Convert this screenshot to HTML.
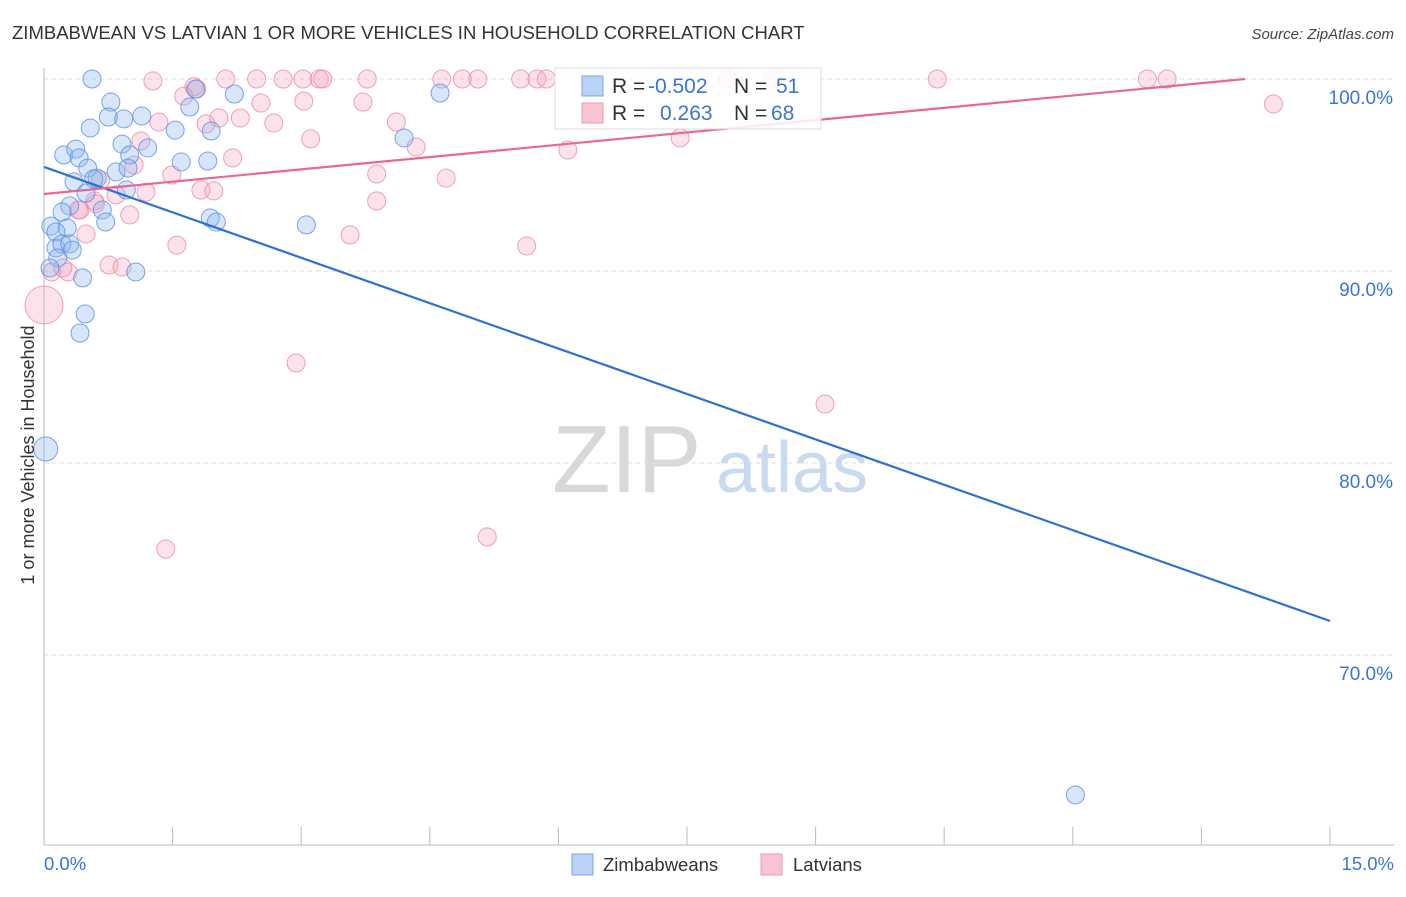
<!DOCTYPE html>
<html><head><meta charset="utf-8"><style>
body{margin:0;background:#fff;font-family:"Liberation Sans",sans-serif;}
svg text{font-family:"Liberation Sans",sans-serif;}
</style></head><body>
<svg id="chart" width="1406" height="892" xmlns="http://www.w3.org/2000/svg">
<text x="12" y="39" font-size="18.5" fill="#333">ZIMBABWEAN VS LATVIAN 1 OR MORE VEHICLES IN HOUSEHOLD CORRELATION CHART</text>
<text x="1394" y="39" font-size="15" fill="#444" font-style="italic" text-anchor="end">Source: ZipAtlas.com</text>
<g>
<text x="552" y="492" font-size="96" font-family="Liberation Serif" fill="#d8d8d8">ZIP</text>
<text x="716" y="492" font-size="72" fill="#c9d9f0">atlas</text>
</g>
<g id="grid"></g>
<g id="axes"></g>
<g id="pinkpts"></g>
<g id="bluepts"></g>
<g id="trends"></g>
<text transform="translate(34,455) rotate(-90)" font-size="18" fill="#333" text-anchor="middle">1 or more Vehicles in Household</text>
<g>
<rect x="555" y="68" width="266" height="61" fill="#fff" fill-opacity="0.85" stroke="#ddd"/>
<rect x="582" y="76" width="21" height="20" fill="#b9d2f5" stroke="#7aa6e6"/>
<rect x="582" y="103" width="21" height="20" fill="#f8c3d2" stroke="#ee9ab3"/>
<text x="612" y="93" font-size="21" fill="#333">R = </text><text x="648" y="93" font-size="21" fill="#3b73d9">-0.502</text>
<text x="734" y="93" font-size="21" fill="#333">N = </text><text x="776" y="93" font-size="21" fill="#3b73d9">51</text>
<text x="612" y="120" font-size="21" fill="#333">R = </text><text x="660" y="120" font-size="21" fill="#3b73d9">0.263</text>
<text x="734" y="120" font-size="21" fill="#333">N = </text><text x="771" y="120" font-size="21" fill="#3b73d9">68</text>
</g>
<g>
<rect x="572" y="854" width="21" height="21" fill="#b9d2f5" stroke="#7aa6e6"/>
<text x="603" y="871" font-size="18.5" fill="#333">Zimbabweans</text>
<rect x="761" y="854" width="21" height="21" fill="#f8c3d2" stroke="#ee9ab3"/>
<text x="793" y="871" font-size="18.5" fill="#333">Latvians</text>
</g>
</svg>
<script>
const yTicks=[100,90,80,70];
const yTickLabels=["100.0%","90.0%","80.0%","70.0%"];
const xTicks=[0,1,2,3,4,5,6,7,8,9,10];
const xEndLabels=["0.0%","15.0%"];
const blueX=[0.56,0.78,1.14,0.75,0.93,0.54,1.53,1.70,2.22,1.77,1.95,4.62,4.20,0.91,1.21,0.23,0.37,0.41,0.51,1.00,0.84,0.98,1.60,1.91,0.35,0.62,0.96,0.49,0.30,0.68,0.21,0.72,1.94,2.01,3.06,0.08,0.27,0.14,0.14,0.21,0.30,0.33,0.16,0.07,0.45,1.07,0.48,0.42,0.02,12.03,0.58];
const blueY=[100,98.80,98.07,98.02,97.92,97.45,97.34,98.54,99.22,99.48,97.29,99.27,96.93,96.61,96.41,96.04,96.35,95.89,95.36,96.04,95.16,95.36,95.68,95.73,94.64,94.84,94.22,94.06,93.39,93.18,93.07,92.55,92.76,92.55,92.40,92.34,92.24,92.03,91.20,91.41,91.41,91.09,90.68,90.16,89.64,89.95,87.76,86.77,80.73,62.71,94.8];
const blueR=[9,9,9,9,9,9,9,9,9,9,9,9,9,9,9,9,9,9,9,9,9,9,9,9,9,9,9,9,9,9,9,9,9,9,9,9,9,9,9,9,9,9,9,9,9,9,9,9,12,9,9];
const pinkX=[1.27,1.78,2.12,2.48,2.79,3.02,3.21,3.25,3.77,4.64,4.88,5.06,5.56,5.75,5.86,7.97,8.50,10.42,12.87,13.10,14.34,1.63,2.53,3.03,3.72,1.34,1.89,2.04,2.29,2.68,4.11,4.34,6.11,7.42,6.45,1.13,3.11,2.20,1.49,1.05,0.66,0.84,1.19,1.83,1.98,3.88,4.69,0.42,0.59,1.00,3.88,0.49,1.55,3.57,5.63,0.76,0.91,0.09,0.28,0.0,2.94,9.11,1.42,5.17,0.40,0.22,1.75,0.6];
const pinkY=[99.90,99.48,100,100,100,100,100,100,100,100,100,100,100,100,100,100,100,100,100,100,98.70,99.11,98.75,98.85,98.80,97.76,97.66,97.97,97.97,97.71,97.76,96.46,96.30,96.93,98.13,96.77,96.88,95.89,95.00,95.52,94.74,93.96,94.11,94.22,94.17,95.05,94.84,93.18,93.65,92.92,93.65,91.93,91.35,91.88,91.30,90.31,90.21,89.95,89.95,88.23,85.21,83.07,75.52,76.15,93.18,90.16,99.6,93.5];
const pinkR=[9,9,9,9,9,9,9,9,9,9,9,9,9,9,9,9,9,9,9,9,9,9,9,9,9,9,9,9,9,9,9,9,9,9,9,9,9,9,9,9,9,9,9,9,9,9,9,9,9,9,9,9,9,9,9,9,9,9,9,19,9,9,9,9,9,9,9,9];
const blueTrend=[95.42,71.77];
const pinkTrend=[94.01,100.0,14.01];

const NS="http://www.w3.org/2000/svg";
const X0=44,X1=1330,Y100=79,PXPER=19.2;
function sx(v){return X0+(X1-X0)*v/15;}
function sy(v){return Y100+(100-v)*PXPER;}
function mk(tag,attrs,parent){const e=document.createElementNS(NS,tag);for(const k in attrs)e.setAttribute(k,attrs[k]);parent.appendChild(e);return e;}
const grid=document.getElementById('grid'),axes=document.getElementById('axes');
yTicks.forEach((t,i)=>{
  const l=mk('line',{x1:44,x2:1394,y1:sy(t),y2:sy(t),stroke:'#ddd','stroke-dasharray':'4,4'},grid);
  
  
  const tx=mk('text',{x:1393,y:sy(t)+25,'font-size':19,fill:'#3b73d9','text-anchor':'end'},axes);
  tx.textContent=yTickLabels[i];
  
  
});
const xl=mk('line',{x1:44,x2:1394,y1:845,y2:845,stroke:'#bbb'},axes);


const yl=mk('line',{x1:44,x2:44,y1:68,y2:845,stroke:'#bbb'},axes);


xTicks.forEach(t=>{
  if(t===0)return;
  const x=X0+(X1-X0)*t/10;
  const k=mk('line',{x1:x,x2:x,y1:827,y2:845,stroke:'#bbb'},axes);
  
  
});
const l0=mk('text',{x:44,y:870,'font-size':18.5,fill:'#3b73d9'},axes);l0.textContent=xEndLabels[0];


const l1=mk('text',{x:1394,y:870,'font-size':18.5,fill:'#3b73d9','text-anchor':'end'},axes);l1.textContent=xEndLabels[1];


const pg=document.getElementById('pinkpts'),bg=document.getElementById('bluepts');
pinkX.forEach((v,i)=>{const c=mk('circle',{cx:sx(v),cy:sy(pinkY[i]),r:pinkR[i],fill:'#f5a3bd','fill-opacity':0.3,stroke:'#ec8aa8','stroke-opacity':0.8,'stroke-width':1},pg);
  
  });
blueX.forEach((v,i)=>{const c=mk('circle',{cx:sx(v),cy:sy(blueY[i]),r:blueR[i],fill:'#8cb6ee','fill-opacity':0.35,stroke:'#5a8fe0','stroke-opacity':0.8,'stroke-width':1},bg);
  
  });
const tg=document.getElementById('trends');
const bt=mk('line',{x1:sx(0),y1:sy(blueTrend[0]),x2:sx(15),y2:sy(blueTrend[1]),stroke:'#2f6fd6','stroke-width':2.2},tg);


const pt=mk('line',{x1:sx(0),y1:sy(pinkTrend[0]),x2:sx(pinkTrend[2]),y2:sy(pinkTrend[1]),stroke:'#e8688f','stroke-width':2.2},tg);


</script>
</body></html>
